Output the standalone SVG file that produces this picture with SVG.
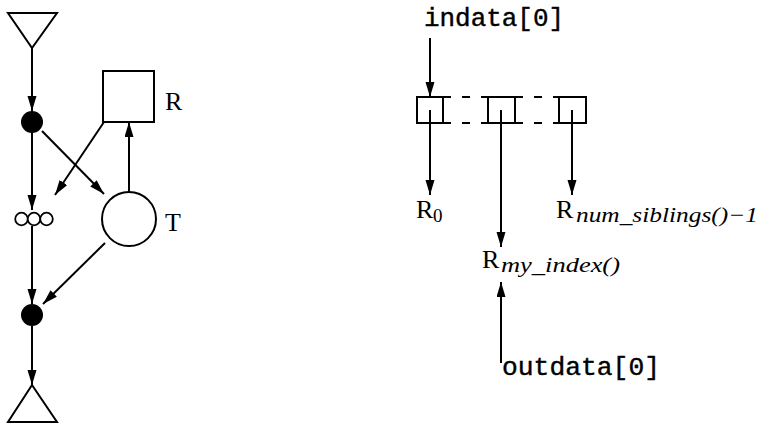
<svg xmlns="http://www.w3.org/2000/svg" width="762" height="425" viewBox="0 0 762 425">
<defs>
<marker id="ah" markerUnits="userSpaceOnUse" markerWidth="16" markerHeight="10" refX="15" refY="4.5" orient="auto">
<path d="M0,0 L15,4.5 L0,9 Z" fill="#000"/>
</marker>
<style>
.ln{stroke:#000;stroke-width:2;fill:none}
.ar{stroke:#000;stroke-width:2;fill:none;marker-end:url(#ah)}
.sh{stroke:#000;stroke-width:2;fill:#fff}
.dot{fill:#000}
.rm{font-family:"Liberation Serif","DejaVu Serif",serif;font-size:26px;fill:#000}
.tt{font-family:"Liberation Mono","DejaVu Sans Mono",monospace;font-size:25px;fill:#000;stroke:#000;stroke-width:0.4}
.dash{stroke:#000;stroke-width:2;fill:none;stroke-dasharray:8 11}
</style>
</defs>
<rect width="762" height="425" fill="#fff"/>
<g id="connectors">
<line class="ar" x1="32" y1="48" x2="32" y2="111"/>
<line class="ar" x1="32" y1="133" x2="32" y2="210"/>
<line class="ar" x1="32" y1="226" x2="32" y2="304"/>
<line class="ar" x1="32" y1="326" x2="32" y2="385"/>
<line class="ar" x1="104" y1="122" x2="55" y2="195"/>
<line class="ar" x1="42" y1="131" x2="104" y2="194"/>
<line class="ar" x1="129" y1="192" x2="129" y2="122"/>
<line class="ar" x1="105" y1="243" x2="43" y2="304"/>
<line class="ar" x1="430" y1="38" x2="430" y2="97"/>
<line class="ar" x1="430" y1="110" x2="430" y2="195"/>
<line class="ar" x1="501" y1="110" x2="501" y2="247"/>
<line class="ar" x1="572" y1="110" x2="572" y2="195"/>
<line class="ar" x1="501" y1="363" x2="501" y2="282"/>
</g>
<g id="source">
<polygon class="sh" points="8,13 57,13 32,48"/>
</g>
<g id="split">
<circle class="dot" cx="32" cy="122" r="11"/>
</g>
<g id="queue">
<circle class="sh" cx="21.5" cy="219" r="6.3" style="stroke-width:1.8"/>
<circle class="sh" cx="34" cy="219" r="6.3" style="stroke-width:1.8"/>
<circle class="sh" cx="46.5" cy="219" r="6.3" style="stroke-width:1.8"/>
</g>
<g id="R">
<rect class="sh" x="103" y="71" width="51" height="51"/>
<text class="rm" x="165" y="110">R</text>
</g>
<g id="T">
<circle class="sh" cx="129" cy="219" r="27"/>
<text class="rm" x="165" y="231">T</text>
</g>
<g id="merge">
<circle class="dot" cx="32" cy="315" r="11"/>
</g>
<g id="sink">
<polygon class="sh" points="32,385 8,422 57,422"/>
</g>
<g id="indata">
<text class="tt" x="424" y="26" textLength="140" lengthAdjust="spacingAndGlyphs">indata[0]</text>
</g>
<g id="boxes">
<rect class="ln" x="417" y="97" width="26" height="26"/>
<rect class="ln" x="488" y="97" width="27" height="26"/>
<rect class="ln" x="559" y="97" width="27" height="26"/>
<line class="dash" x1="443" y1="97" x2="488" y2="97"/>
<line class="dash" x1="443" y1="123" x2="488" y2="123"/>
<line class="dash" x1="515" y1="97" x2="559" y2="97"/>
<line class="dash" x1="515" y1="123" x2="559" y2="123"/>
</g>
<g id="R0">
<text class="rm" x="416" y="218">R</text>
<text x="433" y="222" font-family="Liberation Serif, serif" font-size="19" fill="#000">0</text>
</g>
<g id="Rlast">
<text class="rm" x="556" y="218">R</text>
<text x="576" y="222" font-family="Liberation Serif, serif" font-style="italic" font-size="21" fill="#000" textLength="182" lengthAdjust="spacingAndGlyphs">num_siblings()−1</text>
</g>
<g id="Rmy">
<text class="rm" x="482" y="268">R</text>
<text x="501" y="272" font-family="Liberation Serif, serif" font-style="italic" font-size="21" fill="#000" textLength="119" lengthAdjust="spacingAndGlyphs">my_index()</text>
</g>
<g id="outdata">
<text class="tt" x="502" y="375" textLength="158" lengthAdjust="spacingAndGlyphs">outdata[0]</text>
</g>
</svg>
